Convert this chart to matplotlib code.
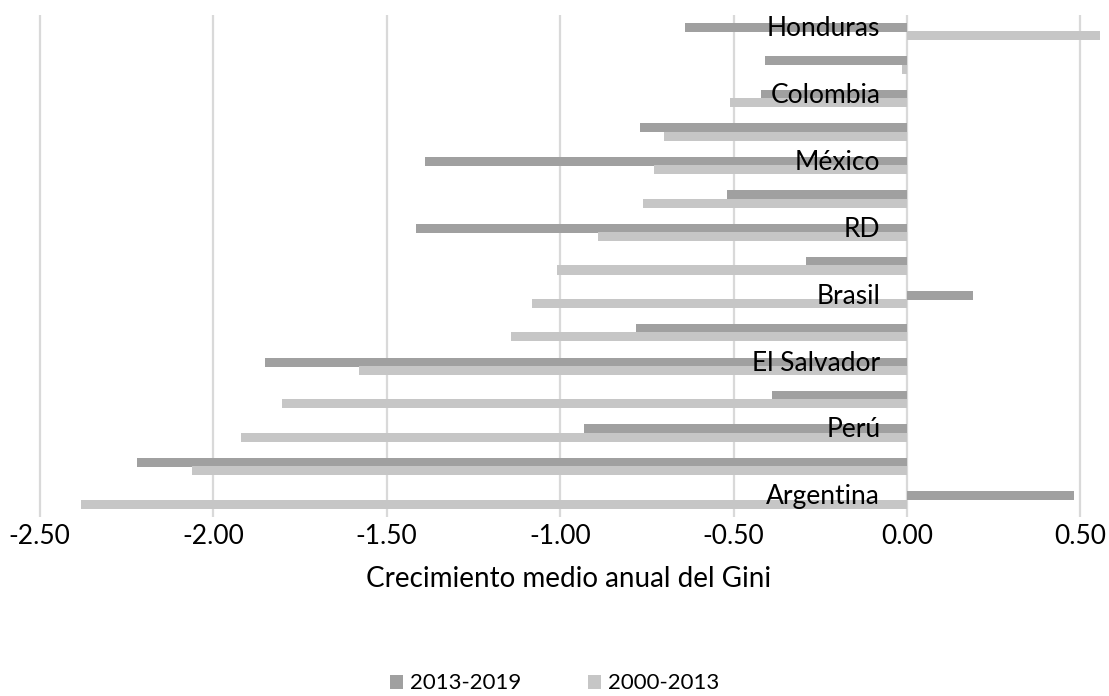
import matplotlib
matplotlib.use("Agg")
import matplotlib.pyplot as plt
import numpy as np

plt.rcParams['font.family'] = ['Lato', 'DejaVu Sans']
plt.rcParams['axes.unicode_minus'] = False

# categories from bottom to top (every other label is hidden, as in the original)
categories = ['Argentina', '', 'Perú', '', 'El Salvador', '', 'Brasil', '',
              'RD', '', 'México', '', 'Colombia', '', 'Honduras']
s2013_2019 = [0.48, -2.22, -0.93, -0.39, -1.85, -0.78, 0.19, -0.29,
              -1.415, -0.52, -1.39, -0.77, -0.42, -0.41, -0.64]
s2000_2013 = [-2.38, -2.06, -1.92, -1.80, -1.58, -1.14, -1.08, -1.01,
              -0.89, -0.76, -0.73, -0.70, -0.51, -0.015, 0.555]
xticks = [-2.5, -2.0, -1.5, -1.0, -0.5, 0.0, 0.5]

dark = '#a0a0a0'
light = '#c6c6c6'

fig = plt.figure(figsize=(11.09, 6.96), dpi=100)
ax = fig.add_axes([0.0294, 0.2572, 0.9668, 0.7213])

y = np.arange(len(categories))
h = 0.27
ax.barh(y + 0.13, s2013_2019, height=h, color=dark, label='2013-2019', zorder=2)
ax.barh(y - 0.12, s2000_2013, height=h, color=light, label='2000-2013', zorder=2)

ax.set_xlim(-2.52, 0.57)
ax.set_ylim(-0.5, len(categories) - 0.5)
ax.set_xticks(xticks)
ax.set_xticklabels(['%.2f' % v for v in xticks], fontsize=19)
ax.set_yticks([])
ax.tick_params(axis='x', length=0, pad=5)
ax.grid(axis='x', color='#d9d9d9', linewidth=1.6, zorder=0)
for s in ax.spines.values():
    s.set_visible(False)

for i, name in enumerate(categories):
    if name:
        ax.text(-0.077, i + 0.1, name, ha='right', va='center', fontsize=19, zorder=3)

ax.set_xlabel('Crecimiento medio anual del Gini', fontsize=20, labelpad=12)

fig.legend(loc='lower center', bbox_to_anchor=(0.5, -0.025), ncol=2, frameon=False,
           fontsize=16, handlelength=0.6, handleheight=0.6, handletextpad=0.3,
           columnspacing=3.0)

fig.savefig('out.png', dpi=100)
